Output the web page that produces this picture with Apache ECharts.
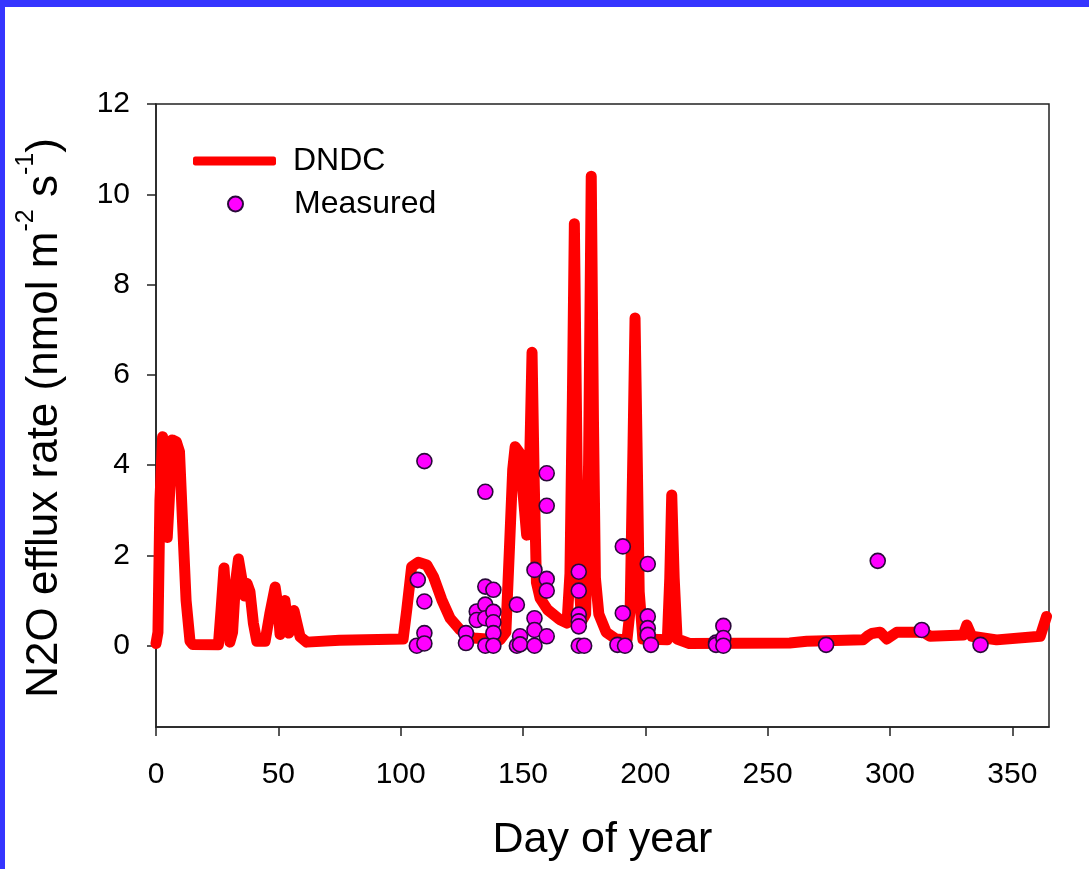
<!DOCTYPE html>
<html>
<head>
<meta charset="utf-8">
<script src="https://cdn.jsdelivr.net/npm/echarts@6/dist/echarts.min.js"></script>
<style>
  html, body { margin: 0; padding: 0; background: #3535ff; }
  #chart { position: absolute; left: 5px; top: 7px; width: 1084px; height: 862px; background: #fff; }
</style>
</head>
<body>
<div id="chart"></div>
<script>
// DNDC modelled flux, [day, nmol m-2 s-1]
const dndc = [
  [0, 0.05], [0.8, 0.3], [1.6, 3.2], [2.7, 4.63], [3.6, 3.6], [4.6, 2.4], [5.4, 3.2], [6.6, 4.56],
  [8.3, 4.52], [9.6, 4.3], [10.8, 2.8], [12.3, 1.0], [13.9, 0.1], [15, 0.03], [25.5, 0.02],
  [26.6, 0.8], [27.8, 1.72], [28.8, 0.9], [30.2, 0.08], [31.3, 0.3], [32.5, 1.4], [33.7, 1.92],
  [35, 1.5], [36.2, 1.1], [37.2, 1.38], [38.4, 1.2], [39.8, 0.5], [41.2, 0.1], [44.6, 0.1],
  [46.5, 0.7], [48.7, 1.3], [49.8, 0.9], [50.7, 0.25], [51.8, 0.8], [52.7, 1.0], [53.6, 0.6],
  [54.3, 0.28], [55.4, 0.6], [56.4, 0.78], [57.6, 0.5], [58.9, 0.2], [61.6, 0.08], [75, 0.12],
  [101, 0.15], [102.5, 0.8], [104.5, 1.75], [107.2, 1.85], [110.7, 1.79], [113.4, 1.53],
  [116.8, 1.02], [120.2, 0.61], [124.3, 0.35], [129.7, 0.17], [140.6, 0.13], [143, 0.3],
  [144.5, 2.2], [145.8, 3.9], [146.8, 4.41], [148.8, 4.26], [150, 3.4], [151.5, 2.45],
  [152.5, 3.5], [153.7, 6.5], [154.6, 3.6], [155.5, 1.4], [157, 1.05], [160, 0.8], [165, 0.58],
  [168, 0.5], [169.2, 1.6], [170.2, 5.5], [171, 9.35], [171.8, 5.5], [172.6, 1.6], [174, 0.55],
  [175.6, 0.7], [176.8, 4], [177.9, 10.4], [178.8, 5], [179.6, 1.5], [181, 0.7], [184, 0.3],
  [188, 0.15], [192.5, 0.13], [193.8, 0.8], [195, 4.5], [195.8, 7.26], [196.6, 4.5], [197.5, 1.2],
  [199, 0.15], [209, 0.13], [210, 1.5], [210.8, 3.34], [211.8, 1.5], [213, 0.15], [218, 0.05],
  [259, 0.06], [266, 0.1], [289, 0.13], [291, 0.22], [292.6, 0.27], [296, 0.3], [298.7, 0.15],
  [302.8, 0.3], [313.7, 0.3], [316.4, 0.21], [330, 0.24], [331.4, 0.46], [333.4, 0.21],
  [343.6, 0.13], [361.4, 0.21], [364, 0.65]
]

// measured chamber fluxes
const measured = [
  [106.6, 0.0], [107, 1.46], [109.7, 4.09], [109.7, 0.98], [109.7, 0.28], [109.7, 0.05],
  [126.7, 0.28], [126.7, 0.06],
  [131.1, 0.76], [131.1, 0.57],
  [134.6, 3.41], [134.6, 1.31], [134.6, 0.91], [134.6, 0.61], [134.6, 0.0],
  [137.9, 1.24], [137.9, 0.75], [137.9, 0.52], [137.9, 0.28], [137.9, 0.0],
  [147.5, 0.91], [147.5, 0.0], [148.8, 0.21], [148.8, 0.03],
  [154.7, 1.68], [154.7, 0.61], [154.7, 0.35], [154.7, 0.0],
  [159.7, 3.82], [159.7, 3.10], [159.7, 1.48], [159.7, 1.22], [159.7, 0.21],
  [172.8, 1.64], [172.8, 1.22], [172.8, 0.69], [172.8, 0.54], [172.8, 0.43], [172.8, 0.0], [175, 0.0],
  [188.6, 0.02], [190.8, 2.20], [190.8, 0.72], [191.7, 0.0],
  [201, 1.81], [201, 0.65], [201, 0.39], [201, 0.24], [202.3, 0.02],
  [228.9, 0.07], [228.9, 0.02], [231.9, 0.44], [231.9, 0.17], [231.9, 0.0],
  [273.9, 0.02], [295, 1.88], [313, 0.35], [337, 0.02]
]

const yTicks = [0, 2, 4, 6, 8, 10, 12]
// y title pieces, 1 = superscript
const yTitle = [['N2O efflux rate (nmol m', 0], ['-2', 1], [' s', 0], ['-1', 1], [')', 0]]
const font = 'Liberation Sans, Arial, sans-serif'

// lay the rotated y title out by hand so the exponents sit high
const ctx = document.createElement('canvas').getContext('2d')
const mainSize = 44, supSize = 25
function textW (t, size) {
  ctx.font = size + 'px "Liberation Sans"'
  return ctx.measureText(t).width
}
let total = 0
yTitle.forEach(p => { total += textW(p[0], p[1] ? supSize : mainSize) })
let cur = -total / 2
const titleParts = yTitle.map(p => {
  const size = p[1] ? supSize : mainSize
  const el = {
    type: 'text',
    x: cur,
    y: p[1] ? -25 - supSize * 0.35 : -mainSize * 0.35,
    style: {
      text: p[0], font: size + 'px "Liberation Sans", Arial, sans-serif', fill: '#000',
      align: 'left', verticalAlign: 'middle', textAlign: 'left', textVerticalAlign: 'middle'
    }
  }
  cur += textW(p[0], size)
  return el
})

const chart = echarts.init(document.getElementById('chart'))
chart.setOption({
  animation: false,
  textStyle: { fontFamily: font, color: '#000' },
  grid: {
    left: 151, top: 97, width: 893, height: 623, outerBoundsMode: 'none',
    show: true, borderColor: '#222', borderWidth: 1.5, backgroundColor: '#fff'
  },
  graphic: [
    { type: 'group', x: 55, y: 411, rotation: Math.PI / 2, children: titleParts }
  ],
  legend: [
    {
      data: [{ name: 'DNDC', icon: 'roundRect' }],
      left: 188, top: 138, padding: 0,
      itemWidth: 83, itemHeight: 9,
      textStyle: { fontSize: 32, fontFamily: font, color: '#000', padding: [0, 0, 0, 12] }
    },
    {
      data: ['Measured'],
      left: 222, top: 181, padding: 0,
      itemWidth: 15, itemHeight: 15,
      textStyle: { fontSize: 32, fontFamily: font, color: '#000', padding: [0, 0, 0, 46] }
    }
  ],
  xAxis: {
    type: 'value', min: 0, max: 365, interval: 50,
    name: 'Day of year', nameLocation: 'middle', nameGap: 92,
    nameTextStyle: { fontSize: 43, fontFamily: font, color: '#000' },
    axisLine: { onZero: false, lineStyle: { color: '#222', width: 1.5 } },
    axisTick: { length: 9, lineStyle: { color: '#222', width: 1.5 } },
    axisLabel: { fontSize: 30, margin: 33, color: '#000' },
    splitLine: { show: false }
  },
  yAxis: {
    type: 'value', min: -1.8, max: 12,
    axisLine: { onZero: false, lineStyle: { color: '#222', width: 1.5 } },
    axisTick: { length: 9, customValues: yTicks, lineStyle: { color: '#222', width: 1.5 } },
    axisLabel: { fontSize: 30, margin: 26, color: '#000', customValues: yTicks },
    splitLine: { show: false }
  },
  series: [
    {
      name: 'DNDC', type: 'line', data: dndc,
      symbol: 'none', showSymbol: false, smooth: false, z: 2,
      itemStyle: { color: '#ff0000' },
      lineStyle: { color: '#ff0000', width: 11, cap: 'round', join: 'round' }
    },
    {
      name: 'Measured', type: 'scatter', data: measured,
      symbol: 'circle', symbolSize: 15, z: 3,
      itemStyle: { color: '#ff00ff', borderColor: '#2a0a3a', borderWidth: 1.6, opacity: 1 }
    }
  ]
})
</script>
</body>
</html>
